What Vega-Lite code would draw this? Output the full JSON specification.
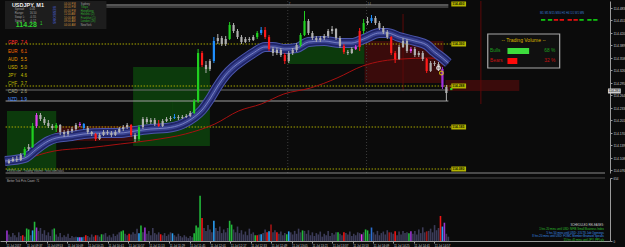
{
"$schema":"https://vega.github.io/schema/vega-lite/v6.json",
"background":"#0b0b0b",
"padding":0,
"autosize":{"type":"fit","contains":"padding"},
"width":625,"height":247,
"config":{
 "view":{"stroke":null},
 "font":"Liberation Sans",
 "axis":{"grid":false,"labelColor":"#c8c8c8","domainColor":"#9a9a9a","tickColor":"#9a9a9a","labelOverlap":false,"labelFlush":false,"labelFont":"Liberation Sans","zindex":1}
},
"datasets":{
 "candles":[
{"i":0,"o":114.095,"h":114.105,"l":114.0925,"c":114.1,"k":"n"},
{"i":1,"o":114.1,"h":114.11,"l":114.0975,"c":114.105,"k":"n"},
{"i":2,"o":114.105,"h":114.1125,"l":114.0975,"c":114.1025,"k":"n"},
{"i":3,"o":114.1025,"h":114.12,"l":114.1,"c":114.115,"k":"n"},
{"i":4,"o":114.115,"h":114.135,"l":114.11,"c":114.13,"k":"g"},
{"i":5,"o":114.13,"h":114.1425,"l":114.125,"c":114.135,"k":"n"},
{"i":6,"o":114.135,"h":114.195,"l":114.1325,"c":114.1875,"k":"g"},
{"i":7,"o":114.1875,"h":114.22,"l":114.1825,"c":114.215,"k":"m"},
{"i":8,"o":114.215,"h":114.22,"l":114.2,"c":114.205,"k":"n"},
{"i":9,"o":114.205,"h":114.21,"l":114.19,"c":114.195,"k":"n"},
{"i":10,"o":114.195,"h":114.2025,"l":114.1825,"c":114.1875,"k":"n"},
{"i":11,"o":114.1875,"h":114.1925,"l":114.1775,"c":114.1825,"k":"n"},
{"i":12,"o":114.1825,"h":114.195,"l":114.1725,"c":114.19,"k":"g"},
{"i":13,"o":114.19,"h":114.1925,"l":114.165,"c":114.1725,"k":"n"},
{"i":14,"o":114.1725,"h":114.1775,"l":114.16,"c":114.1675,"k":"n"},
{"i":15,"o":114.1675,"h":114.18,"l":114.1625,"c":114.175,"k":"n"},
{"i":16,"o":114.175,"h":114.185,"l":114.17,"c":114.18,"k":"n"},
{"i":17,"o":114.18,"h":114.195,"l":114.175,"c":114.19,"k":"n"},
{"i":18,"o":114.19,"h":114.1975,"l":114.185,"c":114.1925,"k":"m"},
{"i":19,"o":114.1925,"h":114.195,"l":114.1775,"c":114.1825,"k":"b"},
{"i":20,"o":114.1825,"h":114.1875,"l":114.1675,"c":114.1725,"k":"n"},
{"i":21,"o":114.1725,"h":114.175,"l":114.1625,"c":114.1675,"k":"n"},
{"i":22,"o":114.1675,"h":114.17,"l":114.15,"c":114.155,"k":"r"},
{"i":23,"o":114.155,"h":114.17,"l":114.1525,"c":114.165,"k":"n"},
{"i":24,"o":114.165,"h":114.1775,"l":114.1625,"c":114.1725,"k":"n"},
{"i":25,"o":114.1725,"h":114.1775,"l":114.165,"c":114.17,"k":"n"},
{"i":26,"o":114.17,"h":114.175,"l":114.16,"c":114.165,"k":"n"},
{"i":27,"o":114.165,"h":114.1775,"l":114.1625,"c":114.1725,"k":"n"},
{"i":28,"o":114.1725,"h":114.185,"l":114.17,"c":114.18,"k":"n"},
{"i":29,"o":114.18,"h":114.19,"l":114.175,"c":114.185,"k":"n"},
{"i":30,"o":114.185,"h":114.195,"l":114.18,"c":114.19,"k":"n"},
{"i":31,"o":114.19,"h":114.1925,"l":114.16,"c":114.165,"k":"r"},
{"i":32,"o":114.165,"h":114.17,"l":114.1475,"c":114.155,"k":"n"},
{"i":33,"o":114.155,"h":114.19,"l":114.15,"c":114.185,"k":"g"},
{"i":34,"o":114.185,"h":114.21,"l":114.18,"c":114.205,"k":"n"},
{"i":35,"o":114.205,"h":114.21,"l":114.1925,"c":114.1975,"k":"n"},
{"i":36,"o":114.1975,"h":114.2075,"l":114.1925,"c":114.2025,"k":"n"},
{"i":37,"o":114.2025,"h":114.2075,"l":114.1875,"c":114.1925,"k":"n"},
{"i":38,"o":114.1925,"h":114.2025,"l":114.185,"c":114.1875,"k":"r"},
{"i":39,"o":114.1875,"h":114.205,"l":114.185,"c":114.2,"k":"n"},
{"i":40,"o":114.2,"h":114.21,"l":114.1975,"c":114.205,"k":"n"},
{"i":41,"o":114.205,"h":114.2125,"l":114.2,"c":114.2075,"k":"n"},
{"i":42,"o":114.2075,"h":114.2175,"l":114.205,"c":114.21,"k":"b"},
{"i":43,"o":114.21,"h":114.215,"l":114.2025,"c":114.2075,"k":"n"},
{"i":44,"o":114.2075,"h":114.215,"l":114.205,"c":114.21,"k":"n"},
{"i":45,"o":114.21,"h":114.2175,"l":114.2075,"c":114.2125,"k":"n"},
{"i":46,"o":114.2125,"h":114.225,"l":114.21,"c":114.22,"k":"n"},
{"i":47,"o":114.22,"h":114.255,"l":114.2175,"c":114.25,"k":"g"},
{"i":48,"o":114.25,"h":114.38,"l":114.245,"c":114.37,"k":"g"},
{"i":49,"o":114.37,"h":114.375,"l":114.335,"c":114.34,"k":"r"},
{"i":50,"o":114.34,"h":114.35,"l":114.32,"c":114.33,"k":"n"},
{"i":51,"o":114.33,"h":114.355,"l":114.325,"c":114.35,"k":"n"},
{"i":52,"o":114.35,"h":114.41,"l":114.345,"c":114.4,"k":"b"},
{"i":53,"o":114.4,"h":114.4175,"l":114.3925,"c":114.4075,"k":"n"},
{"i":54,"o":114.4075,"h":114.4125,"l":114.3875,"c":114.3925,"k":"n"},
{"i":55,"o":114.3925,"h":114.4125,"l":114.3875,"c":114.405,"k":"n"},
{"i":56,"o":114.405,"h":114.4475,"l":114.4025,"c":114.44,"k":"g"},
{"i":57,"o":114.44,"h":114.445,"l":114.42,"c":114.425,"k":"n"},
{"i":58,"o":114.425,"h":114.43,"l":114.405,"c":114.41,"k":"n"},
{"i":59,"o":114.41,"h":114.415,"l":114.3925,"c":114.3975,"k":"n"},
{"i":60,"o":114.3975,"h":114.41,"l":114.395,"c":114.405,"k":"n"},
{"i":61,"o":114.405,"h":114.41,"l":114.3975,"c":114.4025,"k":"n"},
{"i":62,"o":114.4025,"h":114.415,"l":114.4,"c":114.41,"k":"n"},
{"i":63,"o":114.41,"h":114.425,"l":114.405,"c":114.42,"k":"g"},
{"i":64,"o":114.42,"h":114.435,"l":114.415,"c":114.4275,"k":"b"},
{"i":65,"o":114.4275,"h":114.435,"l":114.405,"c":114.41,"k":"r"},
{"i":66,"o":114.41,"h":114.415,"l":114.375,"c":114.38,"k":"r"},
{"i":67,"o":114.38,"h":114.385,"l":114.3625,"c":114.37,"k":"n"},
{"i":68,"o":114.37,"h":114.3825,"l":114.365,"c":114.3775,"k":"n"},
{"i":69,"o":114.3775,"h":114.3825,"l":114.36,"c":114.365,"k":"n"},
{"i":70,"o":114.365,"h":114.37,"l":114.3425,"c":114.35,"k":"r"},
{"i":71,"o":114.35,"h":114.375,"l":114.345,"c":114.37,"k":"n"},
{"i":72,"o":114.37,"h":114.3825,"l":114.365,"c":114.3775,"k":"n"},
{"i":73,"o":114.3775,"h":114.395,"l":114.3725,"c":114.39,"k":"n"},
{"i":74,"o":114.39,"h":114.42,"l":114.385,"c":114.415,"k":"g"},
{"i":75,"o":114.415,"h":114.475,"l":114.4125,"c":114.45,"k":"g"},
{"i":76,"o":114.45,"h":114.455,"l":114.415,"c":114.42,"k":"n"},
{"i":77,"o":114.42,"h":114.425,"l":114.4025,"c":114.4075,"k":"n"},
{"i":78,"o":114.4075,"h":114.4125,"l":114.3975,"c":114.4025,"k":"n"},
{"i":79,"o":114.4025,"h":114.4125,"l":114.3975,"c":114.4075,"k":"n"},
{"i":80,"o":114.4075,"h":114.4175,"l":114.4025,"c":114.4125,"k":"n"},
{"i":81,"o":114.4125,"h":114.43,"l":114.4075,"c":114.425,"k":"n"},
{"i":82,"o":114.425,"h":114.4375,"l":114.4175,"c":114.43,"k":"n"},
{"i":83,"o":114.43,"h":114.4325,"l":114.4025,"c":114.4075,"k":"n"},
{"i":84,"o":114.4075,"h":114.4125,"l":114.3825,"c":114.3875,"k":"n"},
{"i":85,"o":114.3875,"h":114.3925,"l":114.3675,"c":114.3725,"k":"r"},
{"i":86,"o":114.3725,"h":114.3775,"l":114.365,"c":114.37,"k":"n"},
{"i":87,"o":114.37,"h":114.385,"l":114.3675,"c":114.38,"k":"n"},
{"i":88,"o":114.38,"h":114.39,"l":114.3775,"c":114.385,"k":"m"},
{"i":89,"o":114.385,"h":114.4325,"l":114.375,"c":114.425,"k":"r"},
{"i":90,"o":114.425,"h":114.455,"l":114.4175,"c":114.445,"k":"g"},
{"i":91,"o":114.445,"h":114.46,"l":114.44,"c":114.45,"k":"n"},
{"i":92,"o":114.45,"h":114.465,"l":114.445,"c":114.4575,"k":"b"},
{"i":93,"o":114.4575,"h":114.4625,"l":114.44,"c":114.445,"k":"n"},
{"i":94,"o":114.445,"h":114.45,"l":114.4275,"c":114.4325,"k":"n"},
{"i":95,"o":114.4325,"h":114.4375,"l":114.4175,"c":114.4225,"k":"n"},
{"i":96,"o":114.4225,"h":114.4275,"l":114.405,"c":114.41,"k":"n"},
{"i":97,"o":114.41,"h":114.4125,"l":114.365,"c":114.37,"k":"r"},
{"i":98,"o":114.37,"h":114.375,"l":114.345,"c":114.355,"k":"r"},
{"i":99,"o":114.355,"h":114.39,"l":114.3525,"c":114.385,"k":"n"},
{"i":100,"o":114.385,"h":114.4075,"l":114.3825,"c":114.4,"k":"n"},
{"i":101,"o":114.4,"h":114.405,"l":114.37,"c":114.375,"k":"n"},
{"i":102,"o":114.375,"h":114.385,"l":114.37,"c":114.38,"k":"m"},
{"i":103,"o":114.38,"h":114.385,"l":114.36,"c":114.365,"k":"n"},
{"i":104,"o":114.365,"h":114.375,"l":114.36,"c":114.37,"k":"n"},
{"i":105,"o":114.37,"h":114.375,"l":114.35,"c":114.355,"k":"n"},
{"i":106,"o":114.355,"h":114.3575,"l":114.32,"c":114.325,"k":"r"},
{"i":107,"o":114.325,"h":114.35,"l":114.3225,"c":114.345,"k":"n"},
{"i":108,"o":114.345,"h":114.35,"l":114.3375,"c":114.3425,"k":"n"},
{"i":109,"o":114.3425,"h":114.3475,"l":114.325,"c":114.33,"k":"n"},
{"i":110,"o":114.33,"h":114.335,"l":114.28,"c":114.285,"k":"p"},
{"i":111,"o":114.285,"h":114.29,"l":114.25,"c":114.27,"k":"n"}
 ],
 "band":[{"i":-1,"p":114.1},{"i":4,"p":114.1075},{"i":7,"p":114.13},{"i":10,"p":114.15},{"i":12,"p":114.1575},{"i":16,"p":114.1625},{"i":19,"p":114.1675},{"i":24,"p":114.17},{"i":28,"p":114.17},{"i":32,"p":114.175},{"i":36,"p":114.18},{"i":40,"p":114.1825},{"i":44,"p":114.1925},{"i":47,"p":114.21},{"i":49,"p":114.2275},{"i":51,"p":114.255},{"i":53,"p":114.2875},{"i":55,"p":114.315},{"i":57,"p":114.335},{"i":59,"p":114.35},{"i":62,"p":114.37},{"i":65,"p":114.385},{"i":67,"p":114.385},{"i":70,"p":114.38},{"i":73,"p":114.3825},{"i":76,"p":114.3975},{"i":80,"p":114.4},{"i":84,"p":114.395},{"i":87,"p":114.395},{"i":90,"p":114.405},{"i":94,"p":114.42},{"i":96,"p":114.42},{"i":99,"p":114.41},{"i":103,"p":114.4},{"i":106,"p":114.39},{"i":108,"p":114.3725},{"i":110,"p":114.3575},{"i":111.5,"p":114.345}],
 "rma":[{"i":-1,"p":114.0925},{"i":4,"p":114.105},{"i":11.5,"p":114.125},{"i":19.75,"p":114.1325},{"i":28.25,"p":114.1425},{"i":36.5,"p":114.1525},{"i":44.75,"p":114.1675},{"i":52.25,"p":114.1925},{"i":58.25,"p":114.225},{"i":64,"p":114.2425},{"i":69.75,"p":114.2675},{"i":76.5,"p":114.2825},{"i":83.25,"p":114.3075},{"i":89.75,"p":114.3375},{"i":94.75,"p":114.35},{"i":99.75,"p":114.355},{"i":106.5,"p":114.3575},{"i":109,"p":114.355},{"i":111,"p":114.3425}],
 "volc":[{"b":-0.5,"v":110,"k":"p"},{"b":3.5,"v":60,"k":"r"},{"b":4.5,"v":130,"k":"g"},{"b":5,"v":120,"k":"g"},{"b":6,"v":110,"k":"b"},{"b":6.5,"v":200,"k":"g"},{"b":7,"v":140,"k":"p"},{"b":11.5,"v":130,"k":"g"},{"b":17.5,"v":40,"k":"b"},{"b":18,"v":40,"k":"m"},{"b":18.5,"v":40,"k":"b"},{"b":19.5,"v":60,"k":"r"},{"b":22,"v":60,"k":"r"},{"b":23.5,"v":70,"k":"g"},{"b":28.5,"v":100,"k":"g"},{"b":29,"v":110,"k":"g"},{"b":30.5,"v":75,"k":"r"},{"b":33,"v":80,"k":"b"},{"b":33.5,"v":160,"k":"g"},{"b":34.5,"v":140,"k":"p"},{"b":38.5,"v":70,"k":"r"},{"b":41.5,"v":80,"k":"b"},{"b":47,"v":80,"k":"g"},{"b":47.5,"v":160,"k":"g"},{"b":48,"v":140,"k":"g"},{"b":48.5,"v":470,"k":"g"},{"b":49,"v":240,"k":"r"},{"b":52,"v":210,"k":"b"},{"b":56,"v":210,"k":"g"},{"b":56.5,"v":170,"k":"g"},{"b":62.5,"v":60,"k":"g"},{"b":63,"v":60,"k":"r"},{"b":64,"v":70,"k":"b"},{"b":65.5,"v":90,"k":"r"},{"b":66,"v":100,"k":"b"},{"b":66.5,"v":170,"k":"dr"},{"b":68,"v":90,"k":"r"},{"b":70.5,"v":70,"k":"g"},{"b":71,"v":100,"k":"b"},{"b":74.5,"v":110,"k":"g"},{"b":83.5,"v":90,"k":"g"},{"b":85,"v":90,"k":"r"},{"b":89.5,"v":70,"k":"m"},{"b":90.5,"v":120,"k":"g"},{"b":91,"v":110,"k":"g"},{"b":92,"v":140,"k":"db"},{"b":96.5,"v":90,"k":"dr"},{"b":98,"v":100,"k":"r"},{"b":101.5,"v":80,"k":"g"},{"b":102,"v":100,"k":"p"},{"b":106,"v":100,"k":"dr"},{"b":109.5,"v":260,"k":"r"},{"b":110,"v":150,"k":"b"},{"b":110.5,"v":190,"k":"p"}],
 "volg":[{"b":0,"v":68},{"b":0.5,"v":45},{"b":1,"v":82},{"b":1.5,"v":60},{"b":2,"v":38},{"b":2.5,"v":90},{"b":3,"v":52},{"b":4,"v":45},{"b":5.5,"v":60},{"b":7.5,"v":105},{"b":8,"v":135},{"b":8.5,"v":75},{"b":9,"v":112},{"b":9.5,"v":60},{"b":10,"v":90},{"b":10.5,"v":52},{"b":11,"v":120},{"b":12,"v":68},{"b":12.5,"v":45},{"b":13,"v":82},{"b":13.5,"v":38},{"b":14,"v":60},{"b":14.5,"v":45},{"b":15,"v":75},{"b":15.5,"v":30},{"b":16,"v":52},{"b":16.5,"v":38},{"b":17,"v":45},{"b":19,"v":45},{"b":20,"v":52},{"b":20.5,"v":38},{"b":21,"v":68},{"b":21.5,"v":45},{"b":22.5,"v":60},{"b":23,"v":45},{"b":24,"v":68},{"b":24.5,"v":82},{"b":25,"v":45},{"b":25.5,"v":60},{"b":26,"v":38},{"b":26.5,"v":75},{"b":27,"v":52},{"b":27.5,"v":68},{"b":28,"v":90},{"b":29.5,"v":75},{"b":30,"v":60},{"b":31,"v":68},{"b":31.5,"v":90},{"b":32,"v":75},{"b":32.5,"v":128},{"b":34,"v":90},{"b":35,"v":75},{"b":35.5,"v":105},{"b":36,"v":60},{"b":36.5,"v":135},{"b":37,"v":82},{"b":37.5,"v":68},{"b":38,"v":90},{"b":39,"v":60},{"b":39.5,"v":82},{"b":40,"v":52},{"b":40.5,"v":68},{"b":41,"v":90},{"b":42,"v":60},{"b":42.5,"v":45},{"b":43,"v":75},{"b":43.5,"v":52},{"b":44,"v":38},{"b":44.5,"v":60},{"b":45,"v":45},{"b":45.5,"v":30},{"b":46,"v":52},{"b":46.5,"v":38},{"b":49.5,"v":135},{"b":50,"v":105},{"b":50.5,"v":165},{"b":51,"v":120},{"b":51.5,"v":90},{"b":52.5,"v":135},{"b":53,"v":105},{"b":53.5,"v":150},{"b":54,"v":82},{"b":54.5,"v":120},{"b":55,"v":90},{"b":55.5,"v":135},{"b":57,"v":120},{"b":57.5,"v":90},{"b":58,"v":150},{"b":58.5,"v":82},{"b":59,"v":112},{"b":59.5,"v":68},{"b":60,"v":98},{"b":60.5,"v":60},{"b":61,"v":128},{"b":61.5,"v":75},{"b":62,"v":90},{"b":63.5,"v":68},{"b":64.5,"v":82},{"b":65,"v":120},{"b":67,"v":90},{"b":67.5,"v":112},{"b":68.5,"v":75},{"b":69,"v":98},{"b":69.5,"v":60},{"b":70,"v":82},{"b":71.5,"v":90},{"b":72,"v":68},{"b":72.5,"v":105},{"b":73,"v":75},{"b":73.5,"v":128},{"b":74,"v":90},{"b":75,"v":105},{"b":75.5,"v":75},{"b":76,"v":112},{"b":76.5,"v":60},{"b":77,"v":90},{"b":77.5,"v":52},{"b":78,"v":82},{"b":78.5,"v":68},{"b":79,"v":98},{"b":79.5,"v":45},{"b":80,"v":75},{"b":80.5,"v":60},{"b":81,"v":105},{"b":81.5,"v":52},{"b":82,"v":82},{"b":82.5,"v":68},{"b":83,"v":90},{"b":84,"v":75},{"b":84.5,"v":60},{"b":85.5,"v":82},{"b":86,"v":68},{"b":86.5,"v":98},{"b":87,"v":52},{"b":87.5,"v":75},{"b":88,"v":60},{"b":88.5,"v":90},{"b":89,"v":82},{"b":90,"v":90},{"b":91.5,"v":75},{"b":92.5,"v":90},{"b":93,"v":68},{"b":93.5,"v":105},{"b":94,"v":60},{"b":94.5,"v":82},{"b":95,"v":98},{"b":95.5,"v":68},{"b":96,"v":112},{"b":97,"v":90},{"b":97.5,"v":75},{"b":98.5,"v":60},{"b":99,"v":98},{"b":99.5,"v":68},{"b":100,"v":105},{"b":100.5,"v":82},{"b":101,"v":90},{"b":102.5,"v":75},{"b":103,"v":105},{"b":103.5,"v":68},{"b":104,"v":120},{"b":104.5,"v":82},{"b":105,"v":142},{"b":105.5,"v":90},{"b":106.5,"v":105},{"b":107,"v":128},{"b":107.5,"v":90},{"b":108,"v":165},{"b":108.5,"v":112},{"b":109,"v":135},{"b":111,"v":75},{"b":111.5,"v":45}]
},
"layer":[
{
 "layer":[
  {"data":{"values":[{"i":-0.5,"i2":12,"p":114.225,"p2":114.075,"k":"g"},{"i":31.5,"i2":51,"p":114.335,"p2":114.1375,"k":"g"},{"i":70.75,"i2":90.25,"p":114.3925,"p2":114.3425,"k":"g"},{"i":12,"i2":31.5,"p":114.1875,"p2":114.15,"k":"r"},{"i":90.25,"i2":110.25,"p":114.4,"p2":114.295,"k":"r"},{"i":110.75,"i2":129.5,"p":114.3025,"p2":114.275,"k":"r"}]},
   "mark":{"type":"rect"},
   "encoding":{
    "x":{"field":"i","type":"quantitative","scale":{"domain":[-1,151.25],"nice":false,"zero":false}},
    "y":{"field":"p","type":"quantitative","scale":{"domain":[114.07,114.5],"range":[172,0],"nice":false,"zero":false},
     "axis":{"orient":"right","title":null,"values":[114.4825,114.45125,114.42,114.38875,114.3575,114.32625,114.295,114.26375,114.2325,114.20125,114.17,114.13875,114.1075,114.07625],"tickCount":40,"format":".3f","labelFontSize":3.3,"tickSize":2,"labelPadding":1,"labelBaseline":"middle","labelOverlap":false,"labelBound":false}},
    "x2":{"field":"i2"},"y2":{"field":"p2"},
    "color":{"field":"k","type":"nominal","scale":{"domain":["g","r"],"range":["#0c3a0c","#3a0b0b"]},"legend":null}}},
  {"data":{"values":[{"i":70.75,"p":114.5,"p2":114.07},{"i":90.75,"p":114.5,"p2":114.07}]},
   "mark":{"type":"rule","color":"#3c3c3c","strokeDash":[1,2]},
   "encoding":{"x":{"field":"i","type":"quantitative"},"y":{"field":"p","type":"quantitative"},"y2":{"field":"p2"}}},
  {"data":{"values":[{"i":100,"p":114.4675,"p2":114.275,"k":"d"},{"i":119.75,"p":114.5,"p2":114.2425,"k":"d"},{"i":41.5,"p":114.25,"p2":114.1875,"k":"e"}]},
   "mark":{"type":"rule"},
   "encoding":{"x":{"field":"i","type":"quantitative"},"y":{"field":"p","type":"quantitative"},"y2":{"field":"p2"},"color":{"field":"k","type":"nominal","scale":{"domain":["d","e"],"range":["#5c0a0a","#0d400d"]},"legend":null}}},
  {"data":{"values":[{"i":-0.85,"i2":112.25,"p":114.3925},{"i":-0.85,"i2":112.25,"p":114.2875},{"i":-0.85,"i2":112.25,"p":114.185},{"i":-0.85,"i2":112.25,"p":114.08}]},
   "mark":{"type":"rule","color":"#a8a800","strokeDash":[1.5,1.5],"strokeWidth":1},
   "encoding":{"x":{"field":"i","type":"quantitative"},"y":{"field":"p","type":"quantitative"},"x2":{"field":"i2"}}},
  {"data":{"values":[{"i":-0.85,"i2":111.5,"p":114.49,"k":"a"},{"i":-0.85,"i2":111.5,"p":114.485,"k":"b"},{"i":-0.85,"i2":111.5,"p":114.2775,"k":"b"},{"i":-0.85,"i2":111.5,"p":114.25,"k":"a"}]},
   "mark":{"type":"rule","strokeWidth":1.2},
   "encoding":{"x":{"field":"i","type":"quantitative"},"y":{"field":"p","type":"quantitative"},"x2":{"field":"i2"},"color":{"field":"k","type":"nominal","scale":{"domain":["a","b"],"range":["#a0a0a0","#6e6e6e"]},"legend":null}}},
  {"data":{"values":[{"i":-0.85,"i2":151.25,"p":114.07}]},
   "mark":{"type":"rule","strokeWidth":1,"color":"#8a8a8a"},
   "encoding":{"x":{"field":"i","type":"quantitative"},"y":{"field":"p","type":"quantitative"},"x2":{"field":"i2"}}},
  {"data":{"name":"rma"},"mark":{"type":"line","color":"#a81010","strokeWidth":1,"interpolate":"monotone","clip":true},
   "encoding":{"x":{"field":"i","type":"quantitative"},"y":{"field":"p","type":"quantitative"}}},
  {"data":{"name":"band"},"mark":{"type":"line","color":"#4b56aa","strokeWidth":10,"interpolate":"monotone","clip":true},
   "encoding":{"x":{"field":"i","type":"quantitative"},"y":{"field":"p","type":"quantitative"}}},
  {"data":{"name":"band"},"mark":{"type":"line","color":"#1f2466","strokeWidth":8,"interpolate":"monotone","clip":true},
   "encoding":{"x":{"field":"i","type":"quantitative"},"y":{"field":"p","type":"quantitative"}}},
  {"data":{"name":"band"},"mark":{"type":"line","color":"#38418f","strokeWidth":4.5,"interpolate":"monotone","clip":true},
   "encoding":{"x":{"field":"i","type":"quantitative"},"y":{"field":"p","type":"quantitative"}}},
  {"data":{"name":"band"},"mark":{"type":"line","color":"#8890d0","strokeWidth":0.8,"interpolate":"monotone","clip":true},
   "encoding":{"x":{"field":"i","type":"quantitative"},"y":{"field":"p","type":"quantitative"}}},
  {"data":{"name":"candles"},"mark":{"type":"rule","strokeWidth":1},
   "encoding":{
    "x":{"field":"i","type":"quantitative"},
    "y":{"field":"h","type":"quantitative"},
    "y2":{"field":"l"},
    "color":{"field":"k","type":"nominal","scale":{"domain":["n","g","r","b","m","p"],"range":["#b0b0b0","#20d020","#ff1a1a","#2090ff","#e040f0","#a030e0"]},"legend":null}}},
  {"data":{"name":"candles"},"mark":{"type":"bar","size":2.2},
   "encoding":{
    "x":{"field":"i","type":"quantitative"},
    "y":{"field":"o","type":"quantitative"},
    "y2":{"field":"c"},
    "color":{"field":"k","type":"nominal","scale":{"domain":["n","g","r","b","m","p"],"range":["#b0b0b0","#20d020","#ff1a1a","#2090ff","#e040f0","#a030e0"]},"legend":null}}},
  {"data":{"values":[{"i":109,"p":114.3325,"k":"w"},{"i":109.75,"p":114.32,"k":"y"}]},
   "mark":{"type":"point","filled":false,"strokeWidth":1.2,"size":14},
   "encoding":{"x":{"field":"i","type":"quantitative"},"y":{"field":"p","type":"quantitative"},"color":{"field":"k","type":"nominal","scale":{"domain":["w","y"],"range":["#ffffff","#f0e000"]},"legend":null}}},
  {"data":{"values":[{"i":112.25,"p":114.28}]},"mark":{"type":"square","size":5,"color":"#22dd22","opacity":1},
   "encoding":{"x":{"field":"i","type":"quantitative"},"y":{"field":"p","type":"quantitative"}}},
  {"data":{"values":[{"i":112.25,"i2":116,"p":114.49875,"p2":114.48625},{"i":112.25,"i2":116,"p":114.39875,"p2":114.38625},{"i":112.25,"i2":116,"p":114.29375,"p2":114.28125},{"i":112.25,"i2":116,"p":114.19125,"p2":114.17875},{"i":112.25,"i2":116,"p":114.08625,"p2":114.07375}]},
   "mark":{"type":"rect","color":"#b4b400"},
   "encoding":{"x":{"field":"i","type":"quantitative"},"y":{"field":"p","type":"quantitative"},"x2":{"field":"i2"},"y2":{"field":"p2"}}},
  {"data":{"values":[{"i":112.5,"p":114.4925,"t":"114.493"},{"i":112.5,"p":114.3925,"t":"114.393"},{"i":112.5,"p":114.2875,"t":"114.288"},{"i":112.5,"p":114.185,"t":"114.185"},{"i":112.5,"p":114.08,"t":"114.080"}]},
   "mark":{"type":"text","align":"left","baseline":"middle","fontSize":3.4,"fontWeight":"bold","color":"#1a1a00"},
   "encoding":{"x":{"field":"i","type":"quantitative"},"y":{"field":"p","type":"quantitative"},"text":{"field":"t"}}},
  {"data":{"values":[{"i":-1,"i2":24.75,"p":114.5,"p2":114.43}]},
   "mark":{"type":"rect","color":"#1d1d1d"},
   "encoding":{"x":{"field":"i","type":"quantitative"},"y":{"field":"p","type":"quantitative"},"x2":{"field":"i2"},"y2":{"field":"p2"}}},
  {"data":{"values":[{"i":0.75,"p":114.49,"t":"USDJPY, M1"}]},
   "mark":{"type":"text","align":"left","baseline":"middle","fontSize":5.5,"fontWeight":"bold","color":"#f0f0f0"},
   "encoding":{"x":{"field":"i","type":"quantitative"},"y":{"field":"p","type":"quantitative"},"text":{"field":"t"}}},
  {"data":{"values":[{"i":1.5,"p":114.48,"t":"Spread:"},{"i":1.5,"p":114.47,"t":"Range:"},{"i":1.5,"p":114.46,"t":"Swap L:"},{"i":1.5,"p":114.45125,"t":"Swap S:"},{"i":5.25,"p":114.48,"t":"0.00"},{"i":5.25,"p":114.47,"t":"16.50"},{"i":5.25,"p":114.46,"t":"-0.55"},{"i":5.25,"p":114.45125,"t":"-0.12"}]},
   "mark":{"type":"text","align":"left","baseline":"middle","fontSize":2.8,"color":"#a0a0a0"},
   "encoding":{"x":{"field":"i","type":"quantitative"},"y":{"field":"p","type":"quantitative"},"text":{"field":"t"}}},
  {"data":{"values":[{"i":1.75,"p":114.44,"t":"114.28"}]},
   "mark":{"type":"text","align":"left","baseline":"middle","fontSize":7,"fontWeight":"bold","color":"#30d030"},
   "encoding":{"x":{"field":"i","type":"quantitative"},"y":{"field":"p","type":"quantitative"},"text":{"field":"t"}}},
  {"data":{"values":[{"i":7.9,"p":114.4425,"t":"1"}]},
   "mark":{"type":"text","align":"left","baseline":"middle","fontSize":4.5,"color":"#30d030"},
   "encoding":{"x":{"field":"i","type":"quantitative"},"y":{"field":"p","type":"quantitative"},"text":{"field":"t"}}},
  {"data":{"values":[{"i":11.5,"p":114.465,"t":"SESSIONS"}]},
   "mark":{"type":"text","align":"center","baseline":"middle","fontSize":3.5,"fontWeight":"bold","angle":90,"color":"#4050b0"},
   "encoding":{"x":{"field":"i","type":"quantitative"},"y":{"field":"p","type":"quantitative"},"text":{"field":"t"}}},
  {"data":{"values":[{"i":14,"p":114.4925,"t":"04:00 PM","k":"t"},{"i":14,"p":114.48375,"t":"06:00 PM","k":"t"},{"i":14,"p":114.475,"t":"05:00 PM","k":"t"},{"i":14,"p":114.46625,"t":"11:00 AM","k":"t"},{"i":14,"p":114.4575,"t":"10:00 AM","k":"t"},{"i":14,"p":114.44875,"t":"09:00 AM","k":"t"},{"i":14,"p":114.44,"t":"04:00 AM","k":"t"},{"i":18.25,"p":114.4925,"t":"Sydney","k":"o"},{"i":18.25,"p":114.48375,"t":"Tokyo","k":"a"},{"i":18.25,"p":114.475,"t":"HongKong","k":"a"},{"i":18.25,"p":114.46625,"t":"Helsinki (2)","k":"a"},{"i":18.25,"p":114.4575,"t":"Frankfurt (1)","k":"a"},{"i":18.25,"p":114.44875,"t":"London (2h)","k":"a"},{"i":18.25,"p":114.44,"t":"NewYork","k":"o"}]},
   "mark":{"type":"text","align":"left","baseline":"middle","fontSize":2.7},
   "encoding":{"x":{"field":"i","type":"quantitative"},"y":{"field":"p","type":"quantitative"},"text":{"field":"t"},"color":{"field":"k","type":"nominal","scale":{"domain":["t","o","a"],"range":["#c88a3a","#a0a0a0","#30b030"]},"legend":null}}},
  {"data":{"values":[{"i":-0.25,"p":114.395,"t":"GBP","k":"c1"},{"i":-0.25,"p":114.3725,"t":"EUR","k":"c2"},{"i":-0.25,"p":114.3525,"t":"AUD","k":"c3"},{"i":-0.25,"p":114.3325,"t":"USD","k":"c4"},{"i":-0.25,"p":114.3125,"t":"JPY","k":"c5"},{"i":-0.25,"p":114.2925,"t":"CHF","k":"c6"},{"i":-0.25,"p":114.2725,"t":"CAD","k":"c7"},{"i":-0.25,"p":114.2525,"t":"NZD","k":"c8"},{"i":3,"p":114.395,"t":"7.4","k":"c1"},{"i":3,"p":114.3725,"t":"6.1","k":"c2"},{"i":3,"p":114.3525,"t":"5.5","k":"c3"},{"i":3,"p":114.3325,"t":"5.0","k":"c4"},{"i":3,"p":114.3125,"t":"4.6","k":"c5"},{"i":3,"p":114.2925,"t":"3.7","k":"c6"},{"i":3,"p":114.2725,"t":"2.6","k":"c7"},{"i":3,"p":114.2525,"t":"1.9","k":"c8"}]},
   "mark":{"type":"text","align":"left","baseline":"middle","fontSize":4.5},
   "encoding":{"x":{"field":"i","type":"quantitative"},"y":{"field":"p","type":"quantitative"},"text":{"field":"t"},"color":{"field":"k","type":"nominal","scale":{"domain":["c1","c2","c3","c4","c5","c6","c7","c8"],"range":["#ff2a2a","#ff6a00","#e89a00","#d8b800","#c8c000","#b8b800","#a8a880","#4a90ff"]},"legend":null}}},
  {"data":{"values":[{"i":-0.5,"p":114.075,"t":"FXSSI.com  -  Trading Volume  -  fxssi.com/tools"}]},
   "mark":{"type":"text","align":"left","baseline":"middle","fontSize":2.8,"color":"#a0a0a0"},
   "encoding":{"x":{"field":"i","type":"quantitative"},"y":{"field":"p","type":"quantitative"},"text":{"field":"t"}}},
  {"data":{"values":[{"i":71,"p":114.4925,"t":"7"},{"i":91,"p":114.4925,"t":"14"}]},
   "mark":{"type":"text","align":"left","baseline":"middle","fontSize":3,"color":"#909090"},
   "encoding":{"x":{"field":"i","type":"quantitative"},"y":{"field":"p","type":"quantitative"},"text":{"field":"t"}}},
  {"data":{"values":[{"i":121.5,"i2":139.75,"p":114.4175,"p2":114.3325}]},
   "mark":{"type":"rect","color":"#101010","stroke":"#a8a8a8","strokeWidth":1.2},
   "encoding":{"x":{"field":"i","type":"quantitative"},"y":{"field":"p","type":"quantitative"},"x2":{"field":"i2"},"y2":{"field":"p2"}}},
  {"data":{"values":[{"i":126.5,"i2":132,"p":114.3825,"p2":114.3675,"k":"g"},{"i":126.5,"i2":129,"p":114.3575,"p2":114.3425,"k":"r"}]},
   "mark":{"type":"rect"},
   "encoding":{"x":{"field":"i","type":"quantitative"},"y":{"field":"p","type":"quantitative"},"x2":{"field":"i2"},"y2":{"field":"p2"},"color":{"field":"k","type":"nominal","scale":{"domain":["g","r"],"range":["#3ddc3d","#ff0a0a"]},"legend":null}}},
  {"data":{"values":[{"i":130.6,"p":114.4025,"t":"-- Trading Volume --"}]},
   "mark":{"type":"text","align":"center","baseline":"middle","fontSize":5,"color":"#dcb400"},
   "encoding":{"x":{"field":"i","type":"quantitative"},"y":{"field":"p","type":"quantitative"},"text":{"field":"t"}}},
  {"data":{"values":[{"i":122.1,"p":114.375,"t":"Bulls","k":"g"},{"i":122.1,"p":114.35,"t":"Bears","k":"r"}]},
   "mark":{"type":"text","align":"left","baseline":"middle","fontSize":4.8},
   "encoding":{"x":{"field":"i","type":"quantitative"},"y":{"field":"p","type":"quantitative"},"text":{"field":"t"},"color":{"field":"k","type":"nominal","scale":{"domain":["g","r"],"range":["#1fa01f","#c81010"]},"legend":null}}},
  {"data":{"values":[{"i":138.6,"p":114.375,"t":"68 %","k":"g"},{"i":138.6,"p":114.35,"t":"32 %","k":"r"}]},
   "mark":{"type":"text","align":"right","baseline":"middle","fontSize":4.8},
   "encoding":{"x":{"field":"i","type":"quantitative"},"y":{"field":"p","type":"quantitative"},"text":{"field":"t"},"color":{"field":"k","type":"nominal","scale":{"domain":["g","r"],"range":["#1fa01f","#c81010"]},"legend":null}}},
  {"data":{"values":[{"i":134.75,"p":114.47,"t":"M1  M5  M15  M30  H1  H4  D1  W1  MN"}]},
   "mark":{"type":"text","align":"left","baseline":"middle","fontSize":2.8,"color":"#3a78d0"},
   "encoding":{"x":{"field":"i","type":"quantitative"},"y":{"field":"p","type":"quantitative"},"text":{"field":"t"}}},
  {"data":{"values":[{"i":135,"i2":136.1,"p":114.455,"p2":114.4505,"k":"g"},{"i":136.75,"i2":137.85,"p":114.455,"p2":114.4505,"k":"g"},{"i":138.25,"i2":139.35,"p":114.455,"p2":114.4505,"k":"r"},{"i":139.75,"i2":140.85,"p":114.455,"p2":114.4505,"k":"r"},{"i":141.75,"i2":142.85,"p":114.455,"p2":114.4505,"k":"r"},{"i":143.25,"i2":144.35,"p":114.455,"p2":114.4505,"k":"r"},{"i":144.75,"i2":145.85,"p":114.455,"p2":114.4505,"k":"g"},{"i":146.75,"i2":147.85,"p":114.455,"p2":114.4505,"k":"g"},{"i":148.25,"i2":149.35,"p":114.455,"p2":114.4505,"k":"g"}]},
   "mark":{"type":"rect"},
   "encoding":{"x":{"field":"i","type":"quantitative"},"y":{"field":"p","type":"quantitative"},"x2":{"field":"i2"},"y2":{"field":"p2"},"color":{"field":"k","type":"nominal","scale":{"domain":["g","r"],"range":["#10c010","#e01010"]},"legend":null}}},
  {"data":{"values":[{"i":152,"i2":155.25,"p":114.28125,"p2":114.26875}]},
   "mark":{"type":"rect","color":"#d0d0d0"},
   "encoding":{"x":{"field":"i","type":"quantitative"},"y":{"field":"p","type":"quantitative"},"x2":{"field":"i2"},"y2":{"field":"p2"}}},
  {"data":{"values":[{"i":153.6,"p":114.275,"t":"114.281"}]},
   "mark":{"type":"text","align":"center","baseline":"middle","fontSize":3.2,"color":"#000000"},
   "encoding":{"x":{"field":"i","type":"quantitative"},"y":{"field":"p","type":"quantitative"},"text":{"field":"t"}}}
 ],
 "resolve":{"scale":{"color":"independent"}}
},
{
 "layer":[
  {"data":{"name":"volg"},"mark":{"type":"bar","size":1.6,"color":"#3b3b58"},
   "encoding":{
    "x":{"field":"b","type":"quantitative","scale":{"domain":[-1,151.25],"nice":false,"zero":false},
     "axis":{"orient":"bottom","title":null,"values":[-0.75,4.425,9.6,14.775,19.95,25.125,30.3,35.475,40.65,45.825,51,56.175,61.35,66.525,71.7,76.875,82.05,87.225,92.4,97.575,102.75,107.925],"tickCount":60,
      "labelExpr":"['11 Jul 2017','11 Jul 09:37','11 Jul 09:53','11 Jul 10:09','11 Jul 10:25','11 Jul 10:41','11 Jul 10:57','11 Jul 11:13','11 Jul 11:29','11 Jul 11:45','11 Jul 12:01','11 Jul 12:17','11 Jul 12:33','11 Jul 12:49','11 Jul 13:05','11 Jul 13:21','11 Jul 13:37','11 Jul 13:53','11 Jul 14:09','11 Jul 14:25','11 Jul 14:41','11 Jul 14:57'][round((datum.value+0.75)/5.175)]",
      "labelFontSize":2.9,"labelAlign":"left","tickSize":2,"labelPadding":1,"labelOverlap":false,"labelBound":false}},
    "y":{"field":"v","type":"quantitative","scale":{"domain":[0,654],"range":[{"expr":"height"},{"expr":"height-63"}],"nice":false,"zero":false},"stack":null,
     "axis":{"orient":"right","title":null,"values":[0,654],"tickCount":10,"format":"d","labelFontSize":3,"tickSize":2,"labelPadding":1,"labelOverlap":false}}}},
  {"data":{"values":[{"b":-0.85,"b2":151.25,"v":654}]},
   "mark":{"type":"rule","strokeWidth":1,"color":"#4a4a4a"},
   "encoding":{"x":{"field":"b","type":"quantitative"},"y":{"field":"v","type":"quantitative"},"x2":{"field":"b2"}}},
  {"data":{"name":"volc"},"mark":{"type":"bar","size":1.6},
   "encoding":{
    "x":{"field":"b","type":"quantitative"},
    "y":{"field":"v","type":"quantitative","stack":null},
    "color":{"field":"k","type":"nominal","scale":{"domain":["g","r","b","m","p","dr","db"],"range":["#22b83a","#ee1515","#2a9df0","#e040f0","#9a35d0","#a01515","#2a6fd0"]},"legend":null}}},
  {"data":{"values":[{"b":-0.5,"v":628,"t":"Better Tick Pcts    Count: 71"}]},
   "mark":{"type":"text","align":"left","baseline":"middle","fontSize":2.8,"color":"#b8b8b8"},
   "encoding":{"x":{"field":"b","type":"quantitative"},"y":{"field":"v","type":"quantitative"},"text":{"field":"t"}}},
  {"data":{"values":[{"b":151,"v":166,"t":"SCHEDULED RELEASES:","k":"w"},{"b":151,"v":125,"t":"1 hrs 20 mins until USD: NFIB Small Business Index","k":"g"},{"b":151,"v":88,"t":"5 hrs 50 mins until USD: JOLTS Job Openings","k":"b"},{"b":151,"v":52,"t":"8 hrs 20 mins until USD: FOMC Member Brainard Speaks","k":"b"},{"b":151,"v":16,"t":"15 hrs 45 mins until JPY: PPI y/y","k":"g"}]},
   "mark":{"type":"text","align":"right","baseline":"middle","fontSize":2.8},
   "encoding":{"x":{"field":"b","type":"quantitative"},"y":{"field":"v","type":"quantitative"},"text":{"field":"t"},"color":{"field":"k","type":"nominal","scale":{"domain":["w","g","b"],"range":["#d0d0d0","#2ec02e","#3a8ee6"]},"legend":null}}}
 ],
 "resolve":{"scale":{"color":"independent"}}
}
],
"resolve":{"scale":{"y":"independent","color":"independent"},"axis":{"y":"independent"}}
}
